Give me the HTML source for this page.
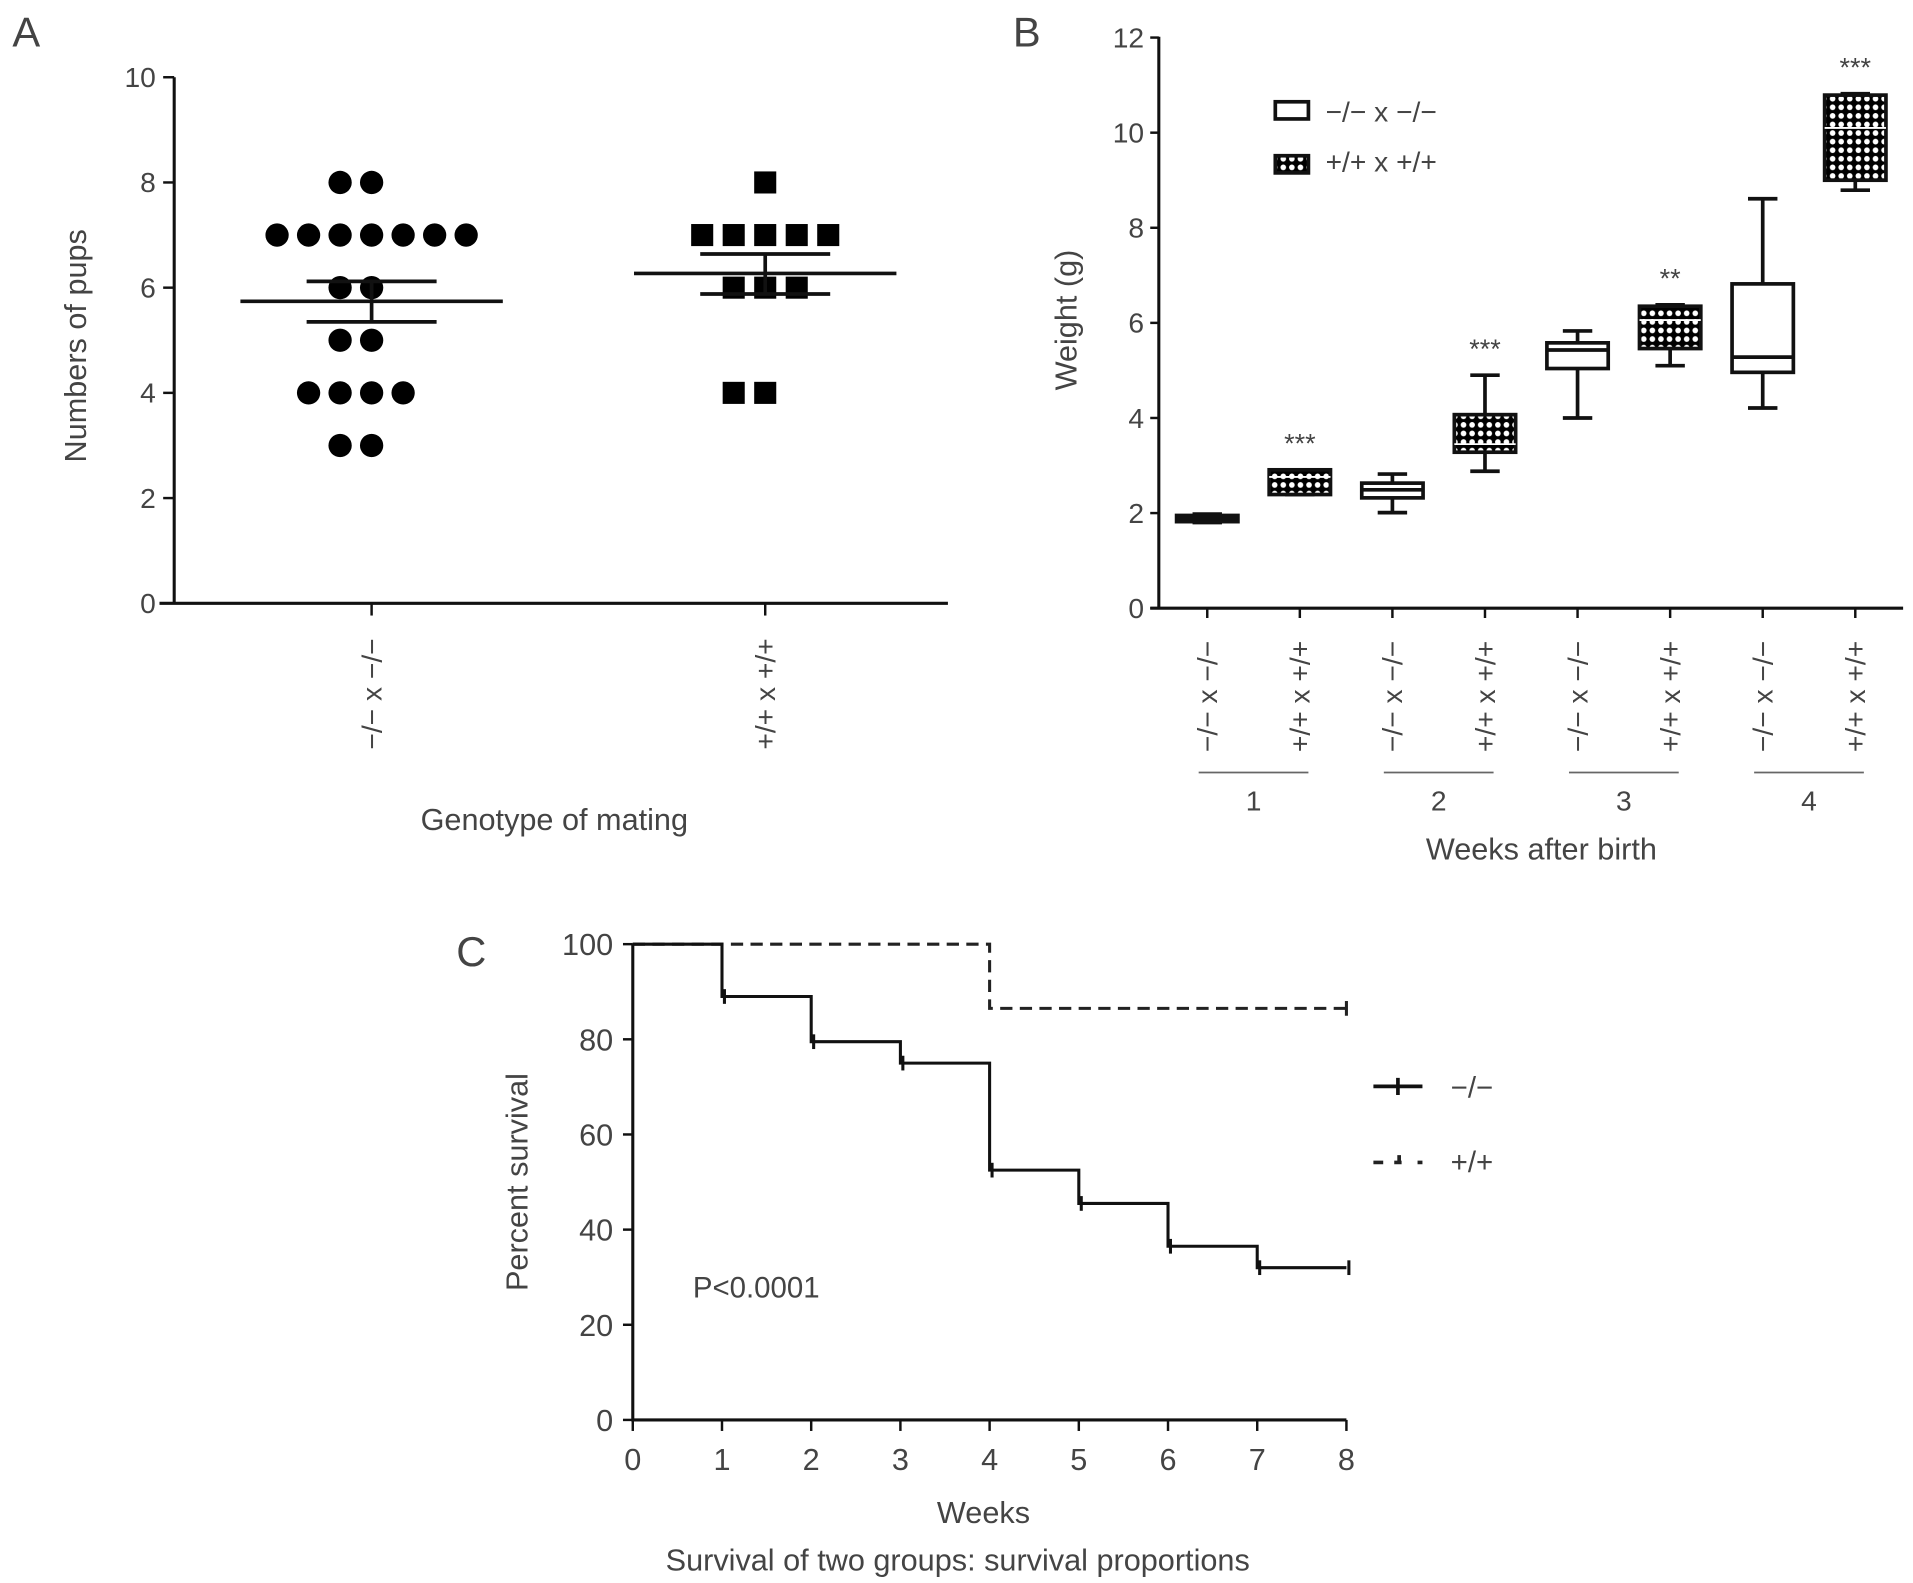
<!DOCTYPE html>
<html><head><meta charset="utf-8"><style>
html,body{margin:0;padding:0;background:#fff;}
svg{display:block;}
text{font-family:"Liberation Sans",sans-serif;fill:#444;}
</style></head><body>
<svg id="fig" width="1913" height="1583" viewBox="0 0 1560 1291" xmlns="http://www.w3.org/2000/svg">
<defs>
<pattern id="dots" width="7" height="7" patternUnits="userSpaceOnUse">
<rect width="7" height="7" fill="#000"/><circle cx="3.5" cy="3.5" r="2.3" fill="#fff"/>
</pattern>
</defs>
<g id="pA"></g>
<g id="pB"></g>
<g id="pC"></g>
</svg>
<script>
// ---------- Panel A data ----------
const aCategories = ["−/− x −/−", "+/+ x +/+"];
const aKOValues = [8,8,7,7,7,7,7,7,7,6,6,5,5,4,4,4,4,3,3];
const aWTValues = [8,7,7,7,7,7,6,6,6,4,4];
const aMeans = [5.74, 6.27];
const aSEMlo = [5.35, 5.88];
const aSEMhi = [6.12, 6.64];
const aYTicks = [0,2,4,6,8,10];
// ---------- Panel B data ----------
const bCategories = ["−/− x −/−","+/+ x +/+","−/− x −/−","+/+ x +/+","−/− x −/−","+/+ x +/+","−/− x −/−","+/+ x +/+"];
const bWeeks = ["1","2","3","4"];
const bMin = [1.80,2.39,2.01,2.88,4.00,5.10,4.21,8.79];
const bQ1  = [1.82,2.39,2.32,3.28,5.04,5.46,4.96,9.00];
const bMed = [1.88,2.76,2.49,3.45,5.43,6.06,5.28,10.10];
const bQ3  = [1.95,2.91,2.63,4.07,5.58,6.35,6.82,10.79];
const bMax = [1.98,2.91,2.82,4.90,5.83,6.38,8.61,10.82];
const bStars = ["","***","","***","","**","","***"];
const bYTicks = [0,2,4,6,8,10,12];
// ---------- Panel C data ----------
const cKOTimes = [0,1,2,3,4,5,6,7,8];
const cKOSurv  = [100,89,79.5,75,52.5,45.5,36.5,32,32];
const cWTTimes = [0,4,8];
const cWTSurv  = [100,86.5,86.5];
const cXTicks = [0,1,2,3,4,5,6,7,8];
const cYTicks = [0,20,40,60,80,100];

const NS="http://www.w3.org/2000/svg";
function mk(parent,tag,attrs,txt){const e=document.createElementNS(NS,tag);for(const k in attrs)e.setAttribute(k,attrs[k]);if(txt!==undefined)e.textContent=txt;parent.appendChild(e);return e;}

// ================= Panel A =================
(function(){
const g=document.getElementById('pA');
const yA=v=>492-42.9*v;
const xCat=[303,624];
let t=mk(g,'text',{x:10,y:38,'font-size':34,fill:'#222'},'A');


let ax=mk(g,'path',{d:'M142 63 V492 M130 492 H773',stroke:'#111','stroke-width':2.5,fill:'none'});


aYTicks.forEach(v=>{
 const tk=mk(g,'line',{x1:133,x2:142,y1:yA(v),y2:yA(v),stroke:'#111','stroke-width':2});
 
 
 const l=mk(g,'text',{x:127,y:yA(v)+8,'font-size':23,'text-anchor':'end'},String(v));
 
 
});
aCategories.forEach((c,i)=>{
 const tk=mk(g,'line',{x1:xCat[i],x2:xCat[i],y1:492,y2:502,stroke:'#111','stroke-width':2});
 
 
 const l=mk(g,'text',{x:0,y:0,'font-size':23,'text-anchor':'middle',transform:`translate(${xCat[i]+8},566) rotate(-90)`},c);
 
 
});
t=mk(g,'text',{x:0,y:0,'font-size':25,'text-anchor':'middle',transform:'translate(70,282) rotate(-90)'},'Numbers of pups');


t=mk(g,'text',{x:452,y:677,'font-size':25,'text-anchor':'middle'},'Genotype of mating');


function swarm(vals){const cnt={};vals.forEach(v=>cnt[v]=(cnt[v]||0)+1);const idx={};return vals.map(v=>{idx[v]=(idx[v]||0);const n=cnt[v];const off=idx[v]-Math.floor(n/2);idx[v]++;return off;});}
const offK=swarm(aKOValues);
aKOValues.forEach((v,i)=>{
 const c=mk(g,'circle',{cx:xCat[0]+offK[i]*25.7,cy:yA(v),r:9.5,fill:'#000'});
 
 
});
const offW=swarm(aWTValues);
aWTValues.forEach((v,i)=>{
 const r=mk(g,'rect',{x:xCat[1]+offW[i]*25.7-9,y:yA(v)-9,width:18,height:18,fill:'#000'});
 
 
});
aMeans.forEach((m,i)=>{
 const x=xCat[i];
 const p=mk(g,'path',{d:`M${x-107} ${yA(m)} H${x+107} M${x-53} ${yA(aSEMhi[i])} H${x+53} M${x-53} ${yA(aSEMlo[i])} H${x+53} M${x} ${yA(aSEMlo[i])} V${yA(aSEMhi[i])}`,stroke:'#111','stroke-width':3,fill:'none'});
 
 
});
})();

// ================= Panel B =================
(function(){
const g=document.getElementById('pB');
const yB=v=>496-38.78*v;
const xB=i=>984.5+i*75.5;
let t=mk(g,'text',{x:826,y:38,'font-size':34,fill:'#222'},'B');


let ax=mk(g,'path',{d:'M945 30 V496 M938 496 H1552',stroke:'#111','stroke-width':2.5,fill:'none'});


bYTicks.forEach(v=>{
 const tk=mk(g,'line',{x1:938,x2:945,y1:yB(v),y2:yB(v),stroke:'#111','stroke-width':2});
 
 
 const l=mk(g,'text',{x:933,y:yB(v)+8,'font-size':23,'text-anchor':'end'},String(v));
 
 
});
t=mk(g,'text',{x:0,y:0,'font-size':25,'text-anchor':'middle',transform:'translate(878,261) rotate(-90)'},'Weight (g)');


bCategories.forEach((c,i)=>{
 const x=xB(i);
 const tk=mk(g,'line',{x1:x,x2:x,y1:496,y2:504,stroke:'#111','stroke-width':2});
 
 
 const l=mk(g,'text',{x:0,y:0,'font-size':23,'text-anchor':'middle',transform:`translate(${x+8},568) rotate(-90)`},c);
 
 
 const wt=i%2===1;
 const w=mk(g,'path',{d:`M${x} ${yB(bMin[i])} V${yB(bQ1[i])} M${x} ${yB(bQ3[i])} V${yB(bMax[i])} M${x-12} ${yB(bMin[i])} H${x+12} M${x-12} ${yB(bMax[i])} H${x+12}`,stroke:'#111','stroke-width':3,fill:'none'});
 
 
 const b=mk(g,'rect',{x:x-25,y:yB(bQ3[i]),width:50,height:Math.max(2,yB(bQ1[i])-yB(bQ3[i])),fill:wt?'url(#dots)':'#fff',stroke:'#111','stroke-width':3});
 
 
 const m=mk(g,'line',{x1:x-25,x2:x+25,y1:yB(bMed[i]),y2:yB(bMed[i]),stroke:wt?'#fff':'#111','stroke-width':wt?1.5:3});
 
 
 if(bStars[i]){
  const s=mk(g,'text',{x:x,y:yB(bMax[i])-14,'font-size':22,'text-anchor':'middle'},bStars[i]);
  
  
 }
});
bWeeks.forEach((wk,j)=>{
 const x0=xB(2*j)-7,x1=xB(2*j+1)+7;
 const l=mk(g,'line',{x1:x0,x2:x1,y1:630,y2:630,stroke:'#666','stroke-width':1.5});
 
 
 const tx=mk(g,'text',{x:(x0+x1)/2,y:661,'font-size':23,'text-anchor':'middle'},wk);
 
 
});
t=mk(g,'text',{x:1257,y:701,'font-size':25,'text-anchor':'middle'},'Weeks after birth');


let lg=mk(g,'rect',{x:1040,y:83,width:27,height:14,fill:'#fff',stroke:'#111','stroke-width':3});


t=mk(g,'text',{x:1081,y:99,'font-size':23},'−/− x −/−');


lg=mk(g,'rect',{x:1040,y:127,width:27,height:14,fill:'url(#dots)',stroke:'#111','stroke-width':3});


t=mk(g,'text',{x:1081,y:140,'font-size':23},'+/+ x +/+');


})();

// ================= Panel C =================
(function(){
const g=document.getElementById('pC');
const xC=v=>516+v*72.75;
const yC=v=>1158-v*3.88;
let t=mk(g,'text',{x:372,y:788,'font-size':34,fill:'#222'},'C');


let ax=mk(g,'path',{d:`M${xC(0)} ${yC(100)} V${yC(0)} H${xC(8)}`,stroke:'#111','stroke-width':2.5,fill:'none'});


cYTicks.forEach(v=>{
 const tk=mk(g,'line',{x1:508,x2:516,y1:yC(v),y2:yC(v),stroke:'#111','stroke-width':2});
 
 
 const l=mk(g,'text',{x:500,y:yC(v)+9,'font-size':25,'text-anchor':'end',transform:`translate(${500*0.12},0) scale(0.88,1)`,style:'transform-origin:0 0'},String(v));
 l.setAttribute('transform','');
 
 
});
cXTicks.forEach(v=>{
 const tk=mk(g,'line',{x1:xC(v),x2:xC(v),y1:1158,y2:1167,stroke:'#111','stroke-width':2});
 
 
 const l=mk(g,'text',{x:xC(v),y:1199,'font-size':25,'text-anchor':'middle'},String(v));
 
 
});
function steps(ts,ss){let d=`M${xC(ts[0])} ${yC(ss[0])}`;for(let i=1;i<ts.length;i++){d+=` H${xC(ts[i])} V${yC(ss[i])}`;}return d;}
let p=mk(g,'path',{d:steps(cWTTimes,cWTSurv),stroke:'#222','stroke-width':2.5,fill:'none','stroke-dasharray':'10,6'});


p=mk(g,'path',{d:steps(cKOTimes,cKOSurv),stroke:'#111','stroke-width':2.5,fill:'none'});


cKOTimes.forEach((tm,i)=>{ if(i===0)return;
 const c=mk(g,'line',{x1:xC(tm)+2,x2:xC(tm)+2,y1:yC(cKOSurv[i])-6,y2:yC(cKOSurv[i])+6,stroke:'#111','stroke-width':2.5});
 
 
});
const cw=mk(g,'line',{x1:xC(8),x2:xC(8),y1:yC(cWTSurv[2])-6,y2:yC(cWTSurv[2])+6,stroke:'#222','stroke-width':2.5});


t=mk(g,'text',{x:0,y:0,'font-size':25,'text-anchor':'middle',transform:'translate(430,964) rotate(-90)'},'Percent survival');


t=mk(g,'text',{x:565,y:1058,'font-size':24},'P<0.0001');


t=mk(g,'text',{x:802,y:1242,'font-size':25,'text-anchor':'middle'},'Weeks');


t=mk(g,'text',{x:781,y:1281,'font-size':25,'text-anchor':'middle'},'Survival of two groups: survival proportions');


let lg=mk(g,'path',{d:'M1120 886 H1160 M1140 879 V893',stroke:'#111','stroke-width':3,fill:'none'});


t=mk(g,'text',{x:1183,y:895,'font-size':24},'−/−');


lg=mk(g,'path',{d:'M1120 948 H1128 M1137 948 H1143 M1141 942 V948 M1156 948 H1160',stroke:'#222','stroke-width':3,fill:'none'});


t=mk(g,'text',{x:1183,y:956,'font-size':24},'+/+');


})();
</script>
</body></html>
